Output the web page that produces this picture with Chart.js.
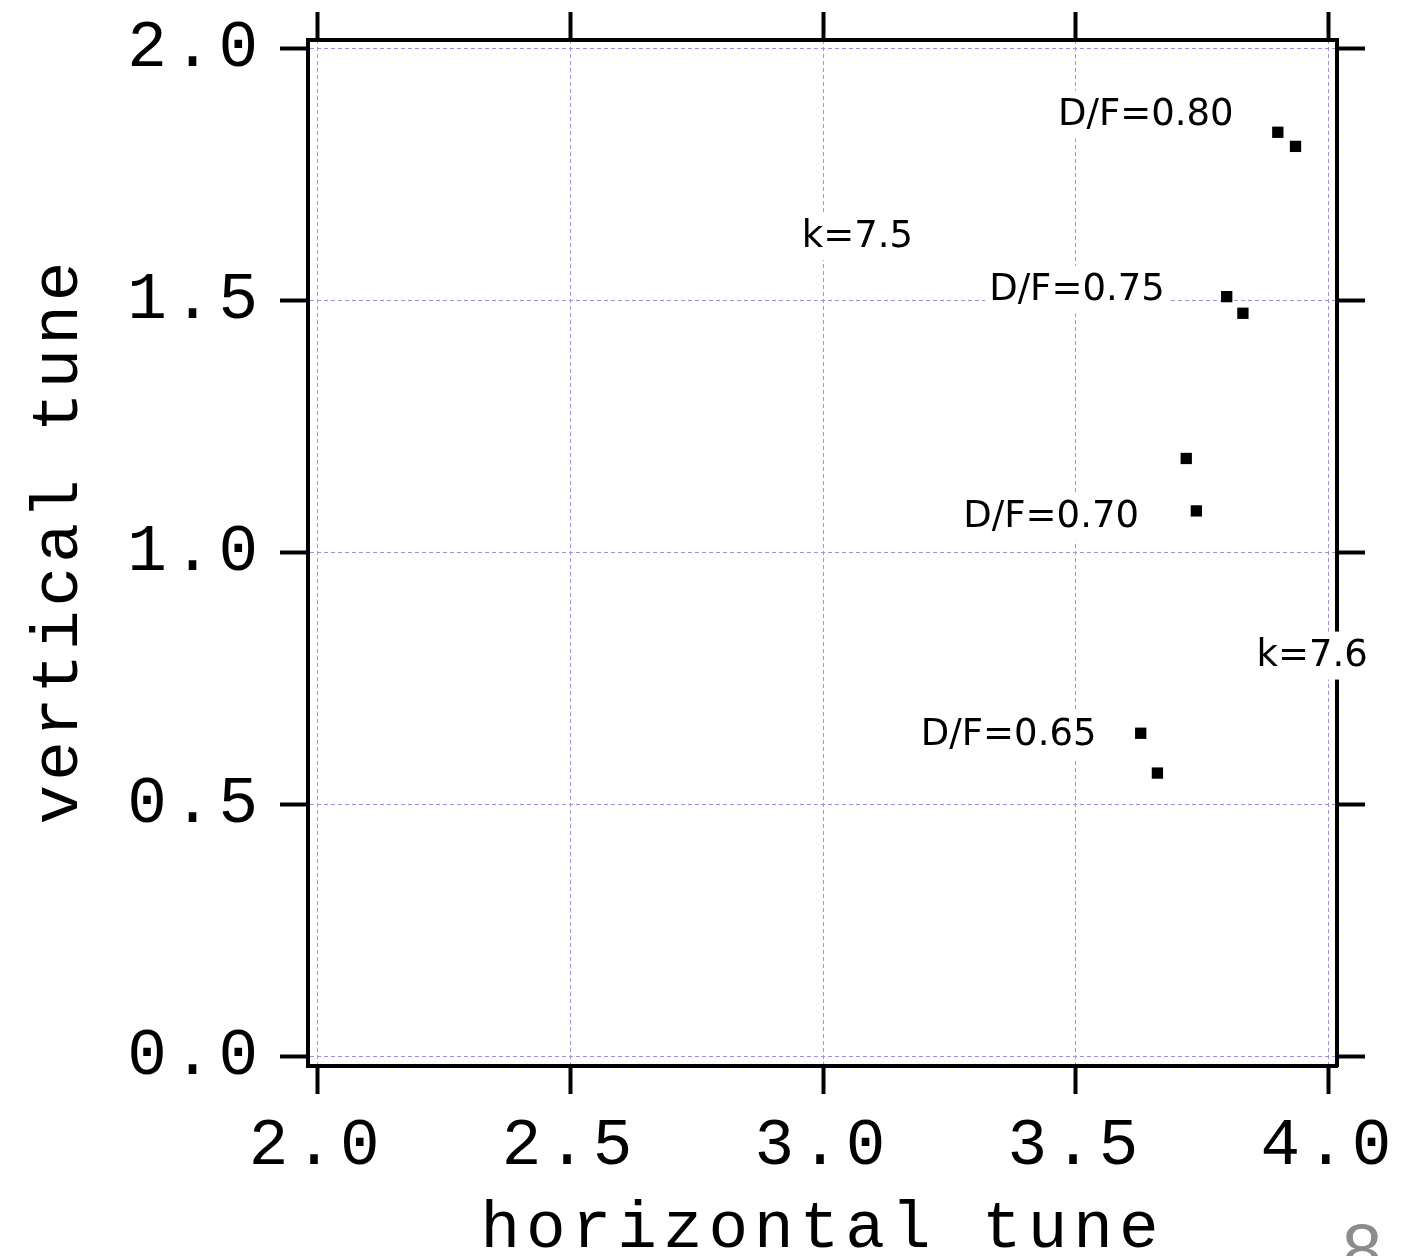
<!DOCTYPE html>
<html lang="en">
<head>
<meta charset="UTF-8">
<title>Tune diagram</title>
<script src="https://cdn.jsdelivr.net/npm/chart.js"></script>
<style>
  body { margin: 0; background: #fff; }
  canvas { display: block; }
</style>
</head>
<body>
<canvas id="tuneChart" width="1402" height="1256"></canvas>
<script>
// working points, one pair per D/F setting (k=7.5 and k=7.6)
const k75H = [3.899, 3.798, 3.718, 3.628];
const k75V = [1.834, 1.508, 1.187, 0.642];
const k76H = [3.934, 3.830, 3.738, 3.661];
const k76V = [1.806, 1.475, 1.083, 0.563];

const xTickLabels = ['2.0', '2.5', '3.0', '3.5', '4.0'];
const yTickLabels = ['0.0', '0.5', '1.0', '1.5', '2.0'];

// text notes, placed in tune coordinates
const noteText = ['D/F=0.80', 'k=7.5', 'D/F=0.75', 'D/F=0.70', 'k=7.6', 'D/F=0.65'];
const noteH = [3.638, 3.068, 3.502, 3.451, 3.967, 3.367];
const noteV = [1.873, 1.632, 1.526, 1.076, 0.800, 0.644];

const gridColor = '#9696dc';
const monoFont = { family: '"Liberation Mono", monospace', size: 66, lineHeight: 1 };

function fixedTicks(labels) {
  return axis => { axis.ticks = labels.map(l => ({ value: parseFloat(l) })); };
}

function axis(pos, labels, size, showLabels, range) {
  const horizontal = pos === 'top' || pos === 'bottom';
  return {
    type: 'linear',
    position: pos,
    min: range[0],
    max: range[1],
    afterBuildTicks: fixedTicks(labels),
    afterFit: s => {
      if (horizontal) s.height = size; else s.width = size;
      // labels may run past the plot edge; keep the plot box fixed
      s.paddingLeft = s.paddingRight = s.paddingTop = s.paddingBottom = 0;
    },
    ticks: {
      display: showLabels,
      font: monoFont,
      color: '#000',
      padding: horizontal ? 20 : 16,
      maxRotation: 0,
      autoSkip: false,
      callback: (v, i) => labels[i]
    },
    grid: {
      drawOnChartArea: showLabels,
      color: gridColor,
      lineWidth: 1,
      tickColor: '#000',
      tickWidth: 4,
      tickLength: 28,
      tickBorderDash: []
    },
    border: { color: '#000', width: 4, dash: [4, 3] }
  };
}

// monospace labels need a wider pitch than the font gives
const monoSpacing = {
  id: 'monoSpacing',
  beforeDraw(chart) { chart.ctx.letterSpacing = '6px'; },
  afterDraw(chart) { chart.ctx.letterSpacing = '0px'; },
  afterLayout(chart) {
    // the vertical title is set a little tighter and sits above centre
    const s = chart.scales.y;
    if (s._tightTitle) return;
    const drawTitle = s.drawTitle;
    s.drawTitle = function () {
      const ctx = this.ctx;
      ctx.save();
      ctx.letterSpacing = '4px';
      ctx.translate(0, -12);
      drawTitle.call(this);
      ctx.restore();
    };
    s._tightTitle = true;
  }
};

const notes = {
  id: 'notes',
  afterDraw(chart) {
    const { ctx, scales: { x, y } } = chart;
    ctx.save();
    ctx.letterSpacing = '0px';
    ctx.font = '37px "DejaVu Sans"';
    ctx.textAlign = 'center';
    ctx.textBaseline = 'middle';
    noteText.forEach((t, i) => {
      const px = x.getPixelForValue(noteH[i]);
      const py = y.getPixelForValue(noteV[i]);
      const w = ctx.measureText(t).width + 8;
      ctx.fillStyle = '#fff';
      ctx.fillRect(px - w / 2, py - 22, w, 48);
      ctx.fillStyle = '#000';
      ctx.fillText(t, px, py + 3);
    });
    // page number, cut by the lower edge
    ctx.fillStyle = '#8c8c8c';
    ctx.font = '72px "Liberation Sans"';
    ctx.textBaseline = 'alphabetic';
    ctx.fillText('8', 1362, 1275);
    ctx.restore();
  }
};

const xAxis = axis('bottom', xTickLabels, 190, true, [1.982, 4.016]);
xAxis.title = {
  display: true, text: 'horizontal tune', color: '#000',
  font: { ...monoFont, lineHeight: '52px' }, padding: { top: 0, bottom: 0 }
};
const yAxis = axis('left', yTickLabels, 308, true, [-0.018, 2.017]);
yAxis.title = {
  display: true, text: 'vertical tune', color: '#000',
  font: { ...monoFont, lineHeight: '52px' }, padding: { top: 34, bottom: 0 }
};

const pointStyle = {
  showLine: false,
  pointStyle: 'rect',
  pointRadius: 8,
  pointBorderWidth: 0,
  backgroundColor: '#000',
  borderColor: '#000'
};

new Chart(document.getElementById('tuneChart'), {
  type: 'scatter',
  data: {
    datasets: [
      { label: 'k=7.5', data: k75H.map((h, i) => ({ x: h, y: k75V[i] })), ...pointStyle },
      { label: 'k=7.6', data: k76H.map((h, i) => ({ x: h, y: k76V[i] })), ...pointStyle }
    ]
  },
  options: {
    responsive: false,
    animation: false,
    devicePixelRatio: 1,
    layout: { padding: 0 },
    plugins: { legend: { display: false }, tooltip: { enabled: false } },
    scales: {
      x: xAxis,
      y: yAxis,
      x2: axis('top', xTickLabels, 40, false, [1.982, 4.016]),
      y2: axis('right', yTickLabels, 65, false, [-0.018, 2.017])
    }
  },
  plugins: [monoSpacing, notes]
});
</script>
</body>
</html>
